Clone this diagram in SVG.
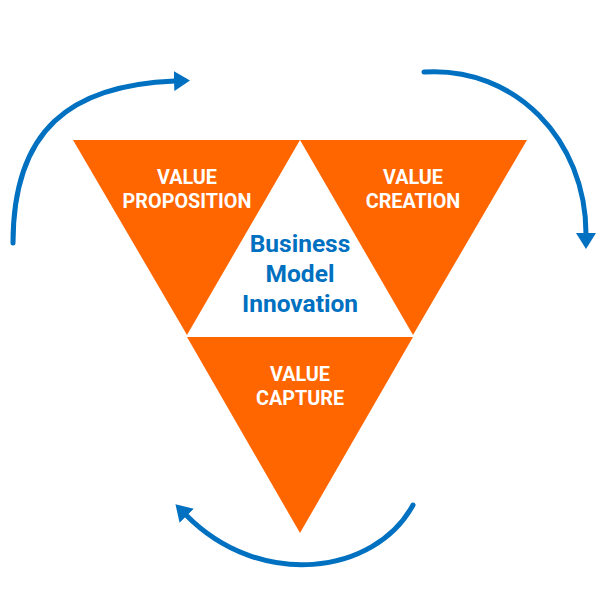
<svg xmlns="http://www.w3.org/2000/svg" width="600" height="600" viewBox="0 0 600 600">
<style>
.tri{fill:#FF6600}
.lbl{font-family:Roboto,"Liberation Sans",sans-serif;font-weight:bold;font-size:19.8px;fill:#FFFFFF;text-anchor:middle}
.ctr{font-family:Roboto,"Liberation Sans",sans-serif;font-weight:bold;font-size:24.5px;fill:#0070C0;text-anchor:middle}
.arc{fill:none;stroke:#0070C0;stroke-width:5;stroke-linecap:round;marker-end:url(#ah)}
</style>
<defs>
<marker id="ah" viewBox="0 0 16 20" markerUnits="userSpaceOnUse" markerWidth="16" markerHeight="20" refX="1" refY="10" orient="auto">
<path d="M0,0 L16,10 L0,20 Z" fill="#0070C0"/>
</marker>
</defs>
<rect width="600" height="600" fill="#FFFFFF"/>
<g id="value-proposition">
<polygon class="tri" points="73,140 300,140 187,335"/>
<text class="lbl" x="187" y="184">VALUE</text>
<text class="lbl" x="187" y="208">PROPOSITION</text>
</g>
<g id="value-creation">
<polygon class="tri" points="300,140 527,140 413,335"/>
<text class="lbl" x="413" y="184">VALUE</text>
<text class="lbl" x="413" y="208">CREATION</text>
</g>
<g id="value-capture">
<polygon class="tri" points="187,337 413,337 300,533"/>
<text class="lbl" x="300" y="381">VALUE</text>
<text class="lbl" x="300" y="405">CAPTURE</text>
</g>
<g id="business-model-innovation">
<text class="ctr" x="300" y="252">Business</text>
<text class="ctr" x="300" y="282">Model</text>
<text class="ctr" x="300" y="312">Innovation</text>
</g>
<g id="connectors">
<path class="arc" d="M13,243 C13,130 70,85 175,81"/>
<path class="arc" d="M424,72 C515,66 586,140 586,234"/>
<path class="arc" d="M413,505 C375,575 260,590 186,515"/>
</g>
</svg>
